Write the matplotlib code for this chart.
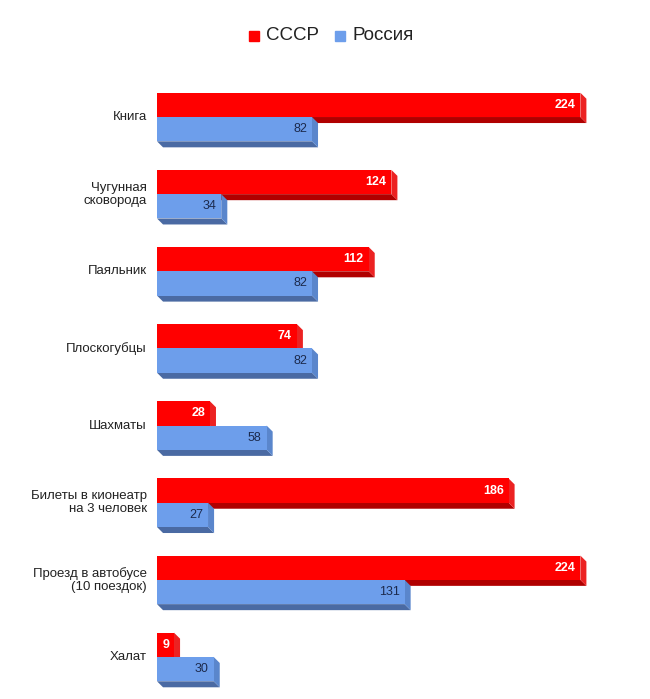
import matplotlib.pyplot as plt
from matplotlib.patches import Polygon

plt.rcParams['font.family'] = ['Liberation Sans', 'DejaVu Sans']

# данные
categories = ['Книга', 'Чугунная\nсковорода', 'Паяльник', 'Плоскогубцы', 'Шахматы',
              'Билеты в кионеатр\nна 3 человек', 'Проезд в автобусе\n(10 поездок)', 'Халат']
ussr = [224, 124, 112, 74, 28, 186, 224, 9]
russia = [82, 34, 82, 82, 58, 27, 131, 30]

series_names = ['СССР', 'Россия']
front_colors = ['#ff0000', '#6d9eeb']
side_colors = ['#ec2222', '#5a86cc']
bottom_colors = ['#b00000', '#4a6aa3']
label_colors = ['white', '#1c2a4d']

fig = plt.figure(figsize=(6.5, 6.99), dpi=100)
ax = fig.add_axes([157 / 650, 0, 472.5 / 650, 629 / 699])
ax.set_xlim(0, 250)
ax.set_ylim(7 + 42 / 77.1, -47 / 77.1)
ax.axis('off')

bar_h = 0.315
dx = 3.2   # глубина по x (в единицах данных)
dy = 0.078  # глубина по y

def bar3d(y_top, value, k):
    y_bot = y_top + bar_h
    # нижняя грань
    ax.add_patch(Polygon([(0, y_bot), (value, y_bot), (value + dx, y_bot + dy), (dx, y_bot + dy)],
                         closed=True, facecolor=bottom_colors[k], edgecolor='none'))
    # боковая грань
    ax.add_patch(Polygon([(value, y_top), (value + dx, y_top + dy), (value + dx, y_bot + dy), (value, y_bot)],
                         closed=True, facecolor=side_colors[k], edgecolor='none'))
    # передняя грань
    ax.barh(y_top, value, height=bar_h, align='edge', color=front_colors[k], edgecolor='none')

for i, cat in enumerate(categories):
    bar3d(i - bar_h, ussr[i], 0)
    ax.text(ussr[i] - 2.6, i - bar_h / 2, str(ussr[i]), ha='right', va='center',
            fontsize=9, fontweight='bold', color=label_colors[0])
    bar3d(i, russia[i], 1)
    ax.text(russia[i] - 2.6, i + bar_h / 2, str(russia[i]), ha='right', va='center',
            fontsize=9, color=label_colors[1])
    ax.text(-5.3, i, cat, ha='right', va='center', fontsize=9.5, color='#222222',
            multialignment='right', linespacing=1.12)

# легенда
fig.patches.append(plt.Rectangle((249 / 650, 1 - 41 / 699), 10 / 650, 10 / 699,
                                 transform=fig.transFigure, color=front_colors[0]))
fig.text(266 / 650, 1 - 36 / 699, series_names[0], ha='left', va='center', fontsize=13.5, color='#222222')
fig.patches.append(plt.Rectangle((335 / 650, 1 - 41 / 699), 10 / 650, 10 / 699,
                                 transform=fig.transFigure, color=front_colors[1]))
fig.text(352 / 650, 1 - 36 / 699, series_names[1], ha='left', va='center', fontsize=13.5, color='#222222')

plt.savefig('out.png', dpi=100)
